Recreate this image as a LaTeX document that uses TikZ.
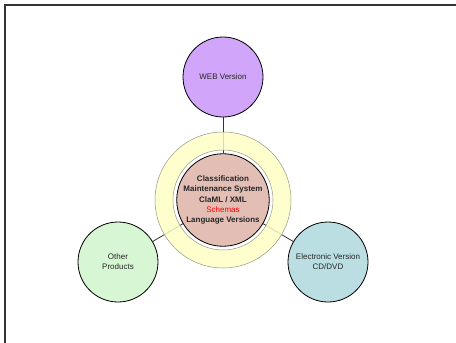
\documentclass[tikz,border=0pt]{standalone}
\usepackage{fontspec}
\setmainfont{Liberation Sans}
\pgfdeclarelayer{bg}
\pgfdeclarelayer{mid}
\pgfsetlayers{bg,mid,main}
\definecolor{webc}{RGB}{208,165,250}
\definecolor{otherc}{RGB}{214,246,212}
\definecolor{elecc}{RGB}{186,222,226}
\definecolor{corec}{RGB}{226,190,180}
\definecolor{ringc}{RGB}{255,255,196}
\definecolor{ringedge}{RGB}{150,150,140}
\tikzset{
  bubble/.style={circle, draw=black, line width=0.8pt, minimum size=80pt, inner sep=0pt,
    align=center, font=\fontsize{8}{10}\selectfont, text=black!85},
  conn/.style={draw=black!80, line width=0.8pt},
  ringfill/.style={fill=ringc, fill opacity=0.82, even odd rule},
  ringline/.style={draw=ringedge, line width=0.5pt},
  frame/.style={draw=black!80, line width=1.6pt}
}
\begin{document}
\begin{tikzpicture}[x=1pt,y=-1pt]
\useasboundingbox (0,0) rectangle (456,343);
\node[bubble, fill=webc] (web) at (223,77) {WEB Version};
\node[bubble, fill=otherc] (other) at (118,262) {Other\\Products};
\node[bubble, fill=elecc] (elec) at (328,262) {Electronic Version\\CD/DVD};
\node[bubble, fill=corec, minimum size=82pt, font=\bfseries\fontsize{8}{10.2}\selectfont] (core) at (223,200)
  {Classification\\Maintenance System\\ClaML / XML\\\textcolor{red}{\mdseries Schemas}\\Language Versions};
\begin{pgfonlayer}{bg}
\fill[white] (0,0) rectangle (456,343);
\draw[frame] (5,350) -- (5,5) -- (470,5);
\draw[conn] (web) -- (core);
\draw[conn] (other) -- (core);
\draw[conn] (elec) -- (core);
\end{pgfonlayer}
\begin{pgfonlayer}{mid}
\fill[ringfill] (core.center) circle (68) circle (50);
\draw[ringline] (core.center) circle (68) circle (50);
\end{pgfonlayer}
\end{tikzpicture}
\end{document}
